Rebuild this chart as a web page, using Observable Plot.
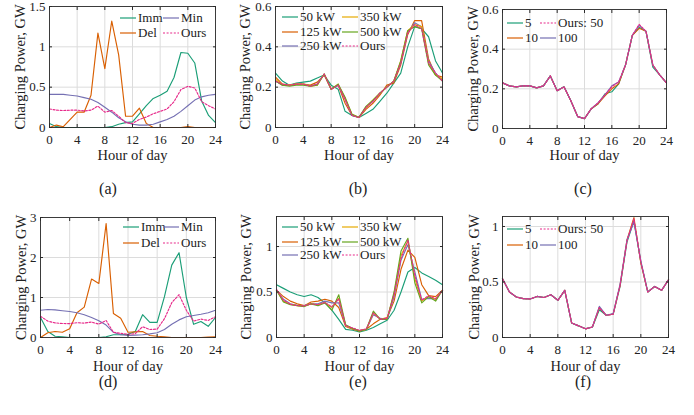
<!DOCTYPE html>
<html><head><meta charset="utf-8">
<script src="https://cdn.jsdelivr.net/npm/d3@7"></script>
<script src="https://cdn.jsdelivr.net/npm/@observablehq/plot@0.6"></script>
<style>
html,body{margin:0;padding:0;background:#fff;}
#root{position:relative;width:694px;height:415px;overflow:hidden;background:#fff;font-family:"Liberation Serif","DejaVu Serif",serif;color:#222;}
#root svg, #root svg text{font-family:"Liberation Serif","DejaVu Serif",serif !important;}
.panel{position:absolute;}
.cap{position:absolute;font-size:16px;transform:translate(-50%,-50%);white-space:nowrap;font-family:"Liberation Serif",serif;}
.leg{position:absolute;font-size:13px;white-space:nowrap;display:flex;align-items:center;transform:translateY(-50%);font-family:"Liberation Serif",serif;}
.leg svg{display:block;margin-right:2px;}
</style>
</head><body>
<div id="root"></div>
<script>
// ---------- data ----------
const hours = [0,1,2,3,4,5,6,7,8,9,10,11,12,13,14,15,16,17,18,19,20,21,22,23,24];
const xTicks = [0,4,8,12,16,20,24];

// (a) strategies, scenario 1
const aImm  = [0.05,0.01,0,0,0,0,0,0,0,0.01,0.04,0.06,0.07,0.17,0.27,0.36,0.40,0.45,0.62,0.93,0.92,0.80,0.33,0.15,0.06];
const aDel  = [0,0.03,0.01,0.10,0.19,0.19,0.40,1.17,0.73,1.32,0.90,0.14,0.14,0.24,0.05,0,0,0,0,0,0.01,0,0,0,0];
const aMin  = [0.41,0.41,0.41,0.40,0.39,0.37,0.35,0.31,0.25,0.19,0.12,0.07,0.04,0.03,0.03,0.04,0.07,0.10,0.14,0.20,0.27,0.34,0.38,0.40,0.41];
const aOurs = [0.23,0.215,0.21,0.215,0.215,0.205,0.215,0.265,0.19,0.21,0.14,0.06,0.05,0.10,0.13,0.17,0.20,0.23,0.32,0.47,0.51,0.49,0.32,0.27,0.23];

// (b) charger power, scenario 1
const b50   = [0.27,0.23,0.21,0.22,0.225,0.23,0.245,0.26,0.21,0.19,0.08,0.06,0.05,0.07,0.09,0.13,0.17,0.22,0.27,0.40,0.50,0.49,0.45,0.33,0.27];
const b125  = [0.25,0.215,0.21,0.215,0.215,0.21,0.225,0.26,0.19,0.21,0.12,0.06,0.05,0.09,0.12,0.16,0.21,0.22,0.31,0.46,0.53,0.53,0.34,0.26,0.25];
const b250  = [0.23,0.21,0.21,0.215,0.215,0.205,0.215,0.265,0.19,0.21,0.14,0.06,0.05,0.10,0.13,0.17,0.20,0.23,0.32,0.47,0.52,0.50,0.33,0.27,0.23];
const b350  = [0.24,0.21,0.21,0.215,0.215,0.205,0.21,0.265,0.19,0.215,0.145,0.065,0.05,0.10,0.135,0.17,0.20,0.23,0.33,0.48,0.51,0.50,0.32,0.26,0.24];
const b500  = [0.23,0.21,0.205,0.21,0.21,0.205,0.21,0.265,0.19,0.215,0.15,0.065,0.05,0.105,0.135,0.17,0.20,0.23,0.33,0.48,0.50,0.49,0.31,0.26,0.23];
const bOurs = [0.23,0.215,0.21,0.215,0.215,0.205,0.215,0.265,0.19,0.21,0.14,0.06,0.05,0.10,0.13,0.17,0.20,0.23,0.32,0.47,0.51,0.49,0.32,0.27,0.23];

// (c) number of samples, scenario 1
const c5    = [0.23,0.215,0.21,0.215,0.215,0.205,0.215,0.265,0.19,0.21,0.14,0.06,0.05,0.10,0.125,0.175,0.185,0.225,0.32,0.47,0.51,0.49,0.31,0.27,0.23];
const c10   = [0.23,0.215,0.21,0.215,0.215,0.205,0.215,0.265,0.19,0.21,0.14,0.06,0.05,0.10,0.125,0.165,0.20,0.225,0.32,0.47,0.505,0.49,0.32,0.27,0.23];
const cOurs = [0.23,0.215,0.21,0.215,0.215,0.205,0.215,0.265,0.19,0.21,0.14,0.06,0.05,0.10,0.13,0.17,0.21,0.235,0.32,0.47,0.525,0.49,0.32,0.27,0.23];
const c100  = [0.23,0.215,0.21,0.215,0.215,0.205,0.215,0.265,0.19,0.21,0.14,0.06,0.05,0.10,0.13,0.17,0.215,0.235,0.32,0.47,0.52,0.49,0.32,0.27,0.23];

// (d) strategies, scenario 2
const dImm  = [0.50,0.15,0.03,0.02,0,0,0,0,0,0.02,0.07,0.07,0.08,0.15,0.57,0.38,0.38,1.02,1.81,2.12,1.00,0.33,0.40,0.28,0.50];
const dDel  = [0,0.12,0.15,0.13,0.22,0.62,0.76,1.46,1.35,2.85,0.60,0.48,0.13,0.14,0.15,0.05,0.03,0.02,0,0,0,0,0,0.01,0.02];
const dMin  = [0.68,0.70,0.69,0.67,0.65,0.62,0.57,0.50,0.42,0.31,0.13,0.07,0.05,0.06,0.07,0.09,0.12,0.20,0.33,0.44,0.52,0.55,0.58,0.62,0.68];
const dOurs = [0.53,0.41,0.365,0.35,0.347,0.37,0.36,0.385,0.335,0.425,0.13,0.105,0.078,0.095,0.27,0.20,0.21,0.47,0.87,1.07,0.68,0.41,0.46,0.425,0.52];

// (e) charger power, scenario 2
const e50   = [0.58,0.54,0.50,0.47,0.45,0.47,0.44,0.38,0.30,0.20,0.09,0.08,0.06,0.08,0.11,0.15,0.19,0.30,0.50,0.72,0.77,0.71,0.67,0.63,0.58];
const e125  = [0.52,0.45,0.40,0.37,0.35,0.39,0.40,0.42,0.40,0.33,0.12,0.09,0.07,0.09,0.15,0.20,0.22,0.40,0.75,0.96,0.88,0.58,0.46,0.45,0.52];
const e250  = [0.52,0.42,0.37,0.355,0.35,0.37,0.37,0.40,0.38,0.38,0.13,0.10,0.075,0.09,0.25,0.21,0.20,0.45,0.85,1.02,0.72,0.42,0.43,0.42,0.52];
const e350  = [0.52,0.40,0.365,0.35,0.345,0.37,0.36,0.385,0.33,0.43,0.13,0.10,0.075,0.09,0.27,0.20,0.21,0.48,0.90,1.06,0.65,0.40,0.45,0.42,0.52];
const e500  = [0.52,0.39,0.36,0.35,0.34,0.37,0.35,0.38,0.30,0.47,0.14,0.10,0.07,0.09,0.29,0.20,0.20,0.50,0.95,1.09,0.60,0.38,0.45,0.40,0.52];
const eOurs = [0.53,0.41,0.365,0.35,0.347,0.37,0.36,0.385,0.335,0.425,0.13,0.105,0.078,0.095,0.27,0.20,0.21,0.47,0.87,1.07,0.68,0.41,0.46,0.425,0.52];

// (f) number of samples, scenario 2
const f5    = [0.53,0.41,0.365,0.35,0.347,0.37,0.36,0.385,0.335,0.425,0.13,0.105,0.078,0.095,0.25,0.20,0.21,0.46,0.86,1.05,0.68,0.41,0.46,0.425,0.52];
const f10   = [0.53,0.41,0.365,0.35,0.347,0.37,0.36,0.385,0.335,0.425,0.13,0.105,0.078,0.095,0.27,0.20,0.21,0.47,0.88,1.08,0.67,0.41,0.46,0.425,0.52];
const fOurs = [0.53,0.41,0.365,0.35,0.347,0.37,0.36,0.385,0.335,0.425,0.13,0.105,0.078,0.095,0.27,0.20,0.21,0.47,0.87,1.07,0.68,0.41,0.46,0.425,0.52];
const f100  = [0.53,0.41,0.365,0.35,0.347,0.37,0.36,0.385,0.335,0.425,0.13,0.105,0.078,0.095,0.28,0.20,0.215,0.48,0.88,1.04,0.69,0.41,0.46,0.425,0.52];

const C = {green:"#1b9e77", orange:"#d95f02", purple:"#7570b3", pink:"#e7298a", lime:"#66a61e", gold:"#e6ab02"};
const DOT = "2,1.6";

const panels = [
  {cap:"(a)", capX:108, capY:189, left:49, top:6, w:166, h:121, yDomain:[0,1.5], yTicks:[0,0.5,1,1.5], ylabDx:-29, xlabDy:28,
   series:[["Imm",aImm,C.green],["Del",aDel,C.orange],["Min",aMin,C.purple],["Ours",aOurs,C.pink,DOT]],
   legend:{cols:[120,163], rows:[18,33], order:[["Imm","Del"],["Min","Ours"]]}},
  {cap:"(b)", capX:358, capY:189, left:275, top:6, w:167, h:121, yDomain:[0,0.6], yTicks:[0,0.2,0.4,0.6], ylabDx:-30, xlabDy:28,
   series:[["50 kW",b50,C.green],["125 kW",b125,C.orange],["250 kW",b250,C.purple],["350 kW",b350,C.gold],["500 kW",b500,C.lime],["Ours",bOurs,C.pink,DOT]],
   legend:{cols:[282,342], rows:[17,31.5,46], order:[["50 kW","125 kW","250 kW"],["350 kW","500 kW","Ours"]]}},
  {cap:"(c)", capX:583, capY:189, left:502, top:9, w:164, h:119, yDomain:[0,0.6], yTicks:[0,0.2,0.4,0.6], ylabDx:-29, xlabDy:27,
   series:[["5",c5,C.green],["10",c10,C.orange],["100",c100,C.purple],["Ours: 50",cOurs,C.pink,DOT]],
   legend:{cols:[507,540], rows:[23,38], order:[["5","10"],["Ours: 50","100"]]}},
  {cap:"(d)", capX:108, capY:382, left:40, top:217, w:175, h:120, yDomain:[0,3], yTicks:[0,1,2,3], ylabDx:-19, xlabDy:29,
   series:[["Imm",dImm,C.green],["Del",dDel,C.orange],["Min",dMin,C.purple],["Ours",dOurs,C.pink,DOT]],
   legend:{cols:[123,163], rows:[227,243], order:[["Imm","Del"],["Min","Ours"]]}},
  {cap:"(e)", capX:358, capY:382, left:276, top:216, w:166, h:121, yDomain:[0,1.33], yTicks:[0,0.5,1], ylabDx:-30, xlabDy:29,
   series:[["50 kW",e50,C.green],["125 kW",e125,C.orange],["250 kW",e250,C.purple],["350 kW",e350,C.gold],["500 kW",e500,C.lime],["Ours",eOurs,C.pink,DOT]],
   legend:{cols:[282,342], rows:[227,241.5,255], order:[["50 kW","125 kW","250 kW"],["350 kW","500 kW","Ours"]]}},
  {cap:"(f)", capX:583, capY:382, left:502, top:216, w:166, h:121, yDomain:[0,1.09], yTicks:[0,0.5,1], ylabDx:-28, xlabDy:29,
   series:[["5",f5,C.green],["10",f10,C.orange],["100",f100,C.purple],["Ours: 50",fOurs,C.pink,DOT]],
   legend:{cols:[507,540], rows:[229,245], order:[["5","10"],["Ours: 50","100"]]}}
];

const ML = 50, MR = 10, MT = 10, MB = 60;
const root = document.getElementById("root");

for (const p of panels) {
  const lineMarks = p.series.map(([name, vals, color, dash]) =>
    Plot.line(vals.map((v, i) => ({h: hours[i], v})), {x: "h", y: "v", stroke: color, strokeWidth: 1.15, strokeDasharray: dash || null}));
  const chart = Plot.plot({
    width: p.w + ML + MR, height: p.h + MT + MB,
    marginLeft: ML, marginRight: MR, marginTop: MT, marginBottom: MB,
    style: "font-family: 'Liberation Serif', 'DejaVu Serif', serif; font-size: 13px; color: #222; background: transparent; overflow: visible;",
    x: {domain: [0, 24], label: null},
    y: {domain: p.yDomain, label: null},
    marks: [
      Plot.gridX(xTicks, {stroke: "#dcdcdc", strokeOpacity: 1, strokeWidth: 1}),
      Plot.gridY(p.yTicks, {stroke: "#dcdcdc", strokeOpacity: 1, strokeWidth: 1}),
      ...lineMarks,
      Plot.frame({stroke: "#2a2a2a", strokeWidth: 0.9}),
      Plot.axisX(xTicks, {anchor: "bottom", tickSize: 0, tickPadding: 7, tickFormat: d => String(d), label: null}),
      Plot.axisX(xTicks, {anchor: "bottom", tickSize: -3, tickFormat: () => "", label: null, stroke: "#2a2a2a"}),
      Plot.axisX(xTicks, {anchor: "top", tickSize: -3, tickFormat: () => "", label: null, stroke: "#2a2a2a"}),
      Plot.axisY(p.yTicks, {anchor: "left", tickSize: 0, tickPadding: 4, tickFormat: d => String(d), label: null}),
      Plot.axisY(p.yTicks, {anchor: "left", tickSize: -3, tickFormat: () => "", label: null, stroke: "#2a2a2a"}),
      Plot.axisY(p.yTicks, {anchor: "right", tickSize: -3, tickFormat: () => "", label: null, stroke: "#2a2a2a"}),
      Plot.text(["Hour of day"], {text: d => d, frameAnchor: "bottom", dy: p.xlabDy, textAnchor: "middle", lineAnchor: "middle", fontSize: 14.5, fill: "#222"}),
      Plot.text(["Charging Power, GW"], {text: d => d, frameAnchor: "left", dx: p.ylabDx, rotate: -90, textAnchor: "middle", lineAnchor: "middle", fontSize: 14.5, fill: "#222"})
    ]
  });
  const div = document.createElement("div");
  div.className = "panel";
  div.style.left = (p.left - ML) + "px";
  div.style.top = (p.top - MT) + "px";
  div.appendChild(chart);
  root.appendChild(div);

  // legend
  const byName = Object.fromEntries(p.series.map(s => [s[0], s]));
  p.legend.order.forEach((col, ci) => {
    col.forEach((name, ri) => {
      const s = byName[name];
      const item = document.createElement("div");
      item.className = "leg";
      item.style.left = p.legend.cols[ci] + "px";
      item.style.top = p.legend.rows[ri] + "px";
      item.innerHTML = `<svg width="16" height="6"><line x1="0" y1="3" x2="16" y2="3" stroke="${s[2]}" stroke-width="1.2" ${s[3] ? `stroke-dasharray="${s[3]}"` : ""}/></svg><span>${name}</span>`;
      root.appendChild(item);
    });
  });

  const cap = document.createElement("div");
  cap.className = "cap";
  cap.style.left = p.capX + "px";
  cap.style.top = p.capY + "px";
  cap.textContent = p.cap;
  root.appendChild(cap);
}
</script>
</body></html>
